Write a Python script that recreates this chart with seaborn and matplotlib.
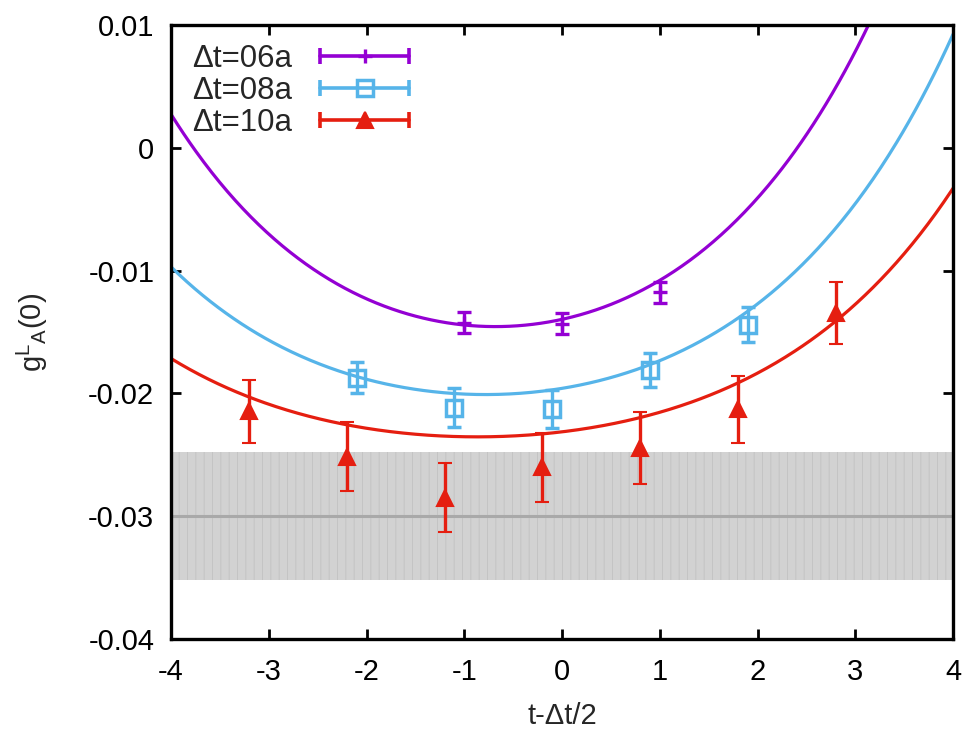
import numpy as np
import pandas as pd
import matplotlib
matplotlib.use("Agg")
import matplotlib.pyplot as plt
import seaborn as sns
from matplotlib.lines import Line2D
from matplotlib.legend_handler import HandlerBase

# ---------------- data ----------------
series_labels = ["Δt=06a", "Δt=08a", "Δt=10a"]
series_colors = ["#9400D3", "#56B4E9", "#E51E10"]

x_06 = [-1.0, 0.0, 1.0]
y_06 = [-0.01423, -0.01431, -0.01178]
e_06 = [0.00086, 0.00086, 0.00086]

x_08 = [-2.1, -1.1, -0.1, 0.9, 1.9]
y_08 = [-0.01871, -0.02115, -0.02127, -0.01809, -0.01439]
e_08 = [0.00126, 0.00159, 0.00155, 0.00138, 0.00143]

x_10 = [-3.2, -2.2, -1.2, -0.2, 0.8, 1.8, 2.8]
y_10 = [-0.02147, -0.02514, -0.02848, -0.02603, -0.02445, -0.02131, -0.01345]
e_10 = [0.00257, 0.00281, 0.00281, 0.00281, 0.00293, 0.00273, 0.00252]

# fit curves: g = c + b1*exp(-m*tau) + b2*exp(m*tau)
fit_c = [-0.0246, -0.0266, -0.0278]
fit_b1 = [0.00357, 0.00220, 0.00138]
fit_b2 = [0.00706, 0.00481, 0.00329]
fit_m = [0.5, 0.5, 0.5]

band_center = -0.0300
band_halfwidth = 0.0052

x_ticks = [-4, -3, -2, -1, 0, 1, 2, 3, 4]
x_tick_labels = ["-4", "-3", "-2", "-1", "0", "1", "2", "3", "4"]
y_ticks = [0.01, 0.0, -0.01, -0.02, -0.03, -0.04]
y_tick_labels = ["0.01", "0", "-0.01", "-0.02", "-0.03", "-0.04"]
x_range = [-4, 4]
y_range = [-0.04, 0.01]

# ---------------- style ----------------
sns.set_theme(style="ticks")
plt.rcParams["font.family"] = ["Liberation Sans", "DejaVu Sans"]
plt.rcParams["mathtext.default"] = "regular"
plt.rcParams["axes.unicode_minus"] = False
plt.rcParams["hatch.linewidth"] = 0.7
FS = 21
LFS = 22.5

fig = plt.figure(figsize=(9.69, 7.36), dpi=100)
ax = fig.add_axes([171 / 969, 1 - 639 / 736, 782 / 969, 614 / 736])

# shaded band
ax.fill_between(x_range, [band_center - band_halfwidth] * 2,
                [band_center + band_halfwidth] * 2,
                facecolor="#d2d2d2", edgecolor="#c4c4c4", hatch="||",
                linewidth=0, zorder=1)
ax.plot(x_range, [band_center] * 2, color="#a9a9a9", lw=2.2, zorder=1.5)

# fit curves
tau = np.linspace(x_range[0], x_range[1], 500)
frames = []
for lab, c, b1, b2, m in zip(series_labels, fit_c, fit_b1, fit_b2, fit_m):
    frames.append(pd.DataFrame({"tau": tau,
                                "g": c + b1 * np.exp(-m * tau) + b2 * np.exp(m * tau),
                                "series": lab}))
curves = pd.concat(frames, ignore_index=True)
sns.lineplot(data=curves, x="tau", y="g", hue="series", palette=series_colors,
             estimator=None, lw=2.3, legend=False, ax=ax, zorder=2)

# data points
marker_styles = [dict(marker="+", ms=10, mew=2.4, mfc=series_colors[0]),
                 dict(marker="s", ms=12, mew=2.5, mfc="none"),
                 dict(marker="^", ms=11.5, mew=1.5, mfc=series_colors[2])]
point_sets = [(x_06, y_06, e_06), (x_08, y_08, e_08), (x_10, y_10, e_10)]
for (xs, ys, es), col, ms in zip(point_sets, series_colors, marker_styles):
    ax.errorbar(xs, ys, yerr=es, ls="none", color=col, mec=col,
                elinewidth=2.4, capsize=5, capthick=2.4, zorder=3, **ms)


# gnuplot-like legend sample: horizontal bar with end caps and marker in middle
class HandlerGnuplot(HandlerBase):
    def __init__(self, color, mstyle):
        super().__init__()
        self.color = color
        self.mstyle = mstyle

    def create_artists(self, legend, orig_handle, xdescent, ydescent,
                       width, height, fontsize, trans):
        y = height / 2 - ydescent
        x0, x1 = -xdescent, width - xdescent
        bar = Line2D([x0, x1], [y, y], color=self.color, lw=2.6)
        caps = Line2D([x0, x1], [y, y], ls="none", marker="|", ms=11,
                      mew=2.6, color=self.color)
        mk = Line2D([(x0 + x1) / 2], [y], ls="none", color=self.color,
                    mec=self.color, **self.mstyle)
        for a in (bar, caps, mk):
            a.set_transform(trans)
        return [bar, caps, mk]


proxies = [Line2D([], [], color=c, label=l) for c, l in zip(series_colors, series_labels)]
hmap = {p: HandlerGnuplot(c, ms) for p, c, ms in zip(proxies, series_colors, marker_styles)}
ax.legend(handles=proxies, handler_map=hmap, loc="upper left",
          bbox_to_anchor=(21 / 782, 1 - 19 / 614), borderaxespad=0, borderpad=0,
          frameon=False, markerfirst=False, fontsize=LFS, handlelength=2.85,
          handletextpad=0.9, labelspacing=0.07)

# axes
ax.set_xlim(*x_range)
ax.set_ylim(*y_range)
ax.set_xticks(x_ticks)
ax.set_xticklabels(x_tick_labels)
ax.set_yticks(y_ticks)
ax.set_yticklabels(y_tick_labels)
ax.tick_params(direction="in", length=7, width=2, top=True, right=True,
               labelsize=FS, colors="black")
ax.tick_params(axis="x", pad=14)
ax.tick_params(axis="y", pad=12)
for s in ax.spines.values():
    s.set_linewidth(2.4)
    s.set_color("black")
    s.set_zorder(5)

ax.set_xlabel("t-Δt/2", fontsize=FS, va="center")
ax.xaxis.set_label_coords(0.5, (639 - 716) / 614)
ax.set_ylabel("g$^{L}$$_{A}$(0)", fontsize=FS, va="center")
ax.yaxis.set_label_coords((32 - 171) / 782, 0.5)

fig.savefig("out.png", dpi=100)
